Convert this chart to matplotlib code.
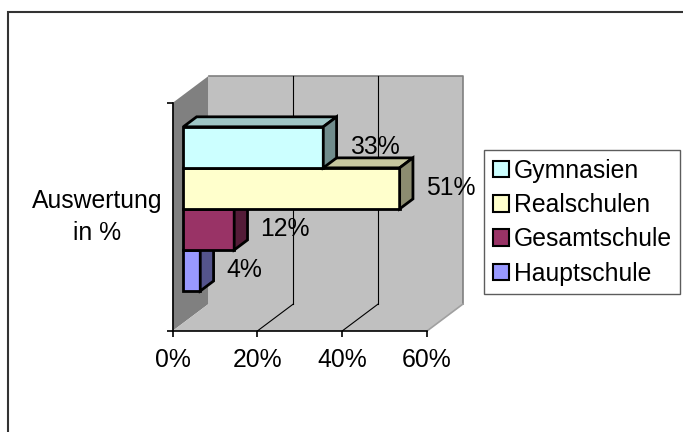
import matplotlib
import matplotlib.pyplot as plt
from matplotlib.patches import Polygon, Patch, Rectangle
import numpy as np

plt.rcParams['font.family'] = ['Liberation Sans', 'DejaVu Sans']

# data
series = ['Gymnasien', 'Realschulen', 'Gesamtschule', 'Hauptschule']
values = [33, 51, 12, 4]
colors = ['#CCFFFF', '#FFFFCC', '#993366', '#9999FF']
category = 'Auswertung\nin %'
xticks = [0, 20, 40, 60]
xticklabels = ['0%', '20%', '40%', '60%']

W, H = 683, 432
FS = 17.8
fig = plt.figure(figsize=(W / 100, H / 100), dpi=100)
ax = fig.add_axes([172.5 / W, (H - 331) / H, 254.5 / W, 228 / H])
ax.set_xlim(0, 60)
ax.set_ylim(0, 1)
ax.patch.set_visible(False)

# depth of the fake 3d box, in data units
DX = 60 * 36 / 254.5
DY = 27 / 228


def shade(c, f):
    return np.array(matplotlib.colors.to_rgb(c)) * f


def poly(pts, fc, ec='none', lw=0, z=1):
    ax.add_patch(Polygon(pts, closed=True, facecolor=fc, edgecolor=ec,
                         linewidth=lw, zorder=z, clip_on=False, joinstyle='miter'))


# walls
poly([(0, 0), (DX, DY), (DX, 1 + DY), (0, 1)], '#808080', z=0.5)
poly([(0, 0), (60, 0), (60 + DX, DY), (DX, DY)], '#C0C0C0', z=0.5)
poly([(DX, DY), (60 + DX, DY), (60 + DX, 1 + DY), (DX, 1 + DY)], '#C0C0C0', z=0.4)
ax.plot([DX, 60 + DX, 60 + DX], [1 + DY, 1 + DY, DY], color='#808080', lw=1.2, zorder=0.6, clip_on=False)
ax.plot([60, 60 + DX], [0, DY], color='#A0A0A0', lw=1.2, zorder=0.6, clip_on=False)
for t in xticks[1:-1]:
    ax.plot([t + DX, t + DX], [DY, 1 + DY], color='black', lw=0.8, zorder=0.6, clip_on=False)
    ax.plot([t, t + DX], [0, DY], color='black', lw=0.8, zorder=0.6, clip_on=False)

# bars, bottom one first so upper bars cover hidden faces
h = 0.18
d0x, d0y = 0.3 * DX, 0.3 * DY
bx, by = 0.37 * DX, 0.37 * DY
n = len(series)
for i in reversed(range(n)):
    v = values[i]
    c = colors[i]
    x0 = d0x
    x1 = d0x + v
    y0 = 0.14 + (n - 1 - i) * h + d0y
    y1 = y0 + h
    poly([(x0, y0), (x1, y0), (x1, y1), (x0, y1)], c, 'black', 2.0, 2)
    poly([(x0, y1), (x1, y1), (x1 + bx, y1 + by), (x0 + bx, y1 + by)], shade(c, 0.78), 'black', 2.0, 2)
    poly([(x1, y0), (x1 + bx, y0 + by), (x1 + bx, y1 + by), (x1, y1)], shade(c, 0.55), 'black', 2.0, 2)
    ax.text(x1 + 6.2, (y0 + y1) / 2 + 0.002, f'{v}%', ha='left', va='center',
            fontsize=FS, zorder=3)

# axes
for s in ['top', 'right']:
    ax.spines[s].set_visible(False)
ax.spines['left'].set_linewidth(1.2)
ax.spines['bottom'].set_linewidth(1.2)
ax.spines['left'].set_zorder(1)
ax.spines['bottom'].set_zorder(1)
ax.set_xticks(xticks, labels=xticklabels, fontsize=FS)
ax.tick_params(axis='x', length=4, width=1.2, pad=8)
ax.set_yticks([0, 1], labels=['', ''])
ax.tick_params(axis='y', which='major', length=4, width=1.2)
ax.set_yticks([0.5], labels=[category], minor=True, fontsize=FS)
ax.tick_params(axis='y', which='minor', length=0, pad=7)
for lab in ax.get_yticklabels(minor=True):
    lab.set_multialignment('center')
    lab.set_verticalalignment('center')
    lab.set_linespacing(1.45)

# legend
handles = [Patch(facecolor=c, edgecolor='black', linewidth=1.5) for c in colors]
leg = fig.legend(handles, series, loc='upper left', bbox_to_anchor=(484 / W, 1 - 150 / H),
                 bbox_transform=fig.transFigure, fontsize=FS, frameon=True, fancybox=False,
                 handlelength=0.65, handleheight=0.65, handletextpad=0.2, labelspacing=0.42,
                 borderpad=0.35, borderaxespad=0)
leg.get_frame().set_edgecolor('#333333')
leg.get_frame().set_linewidth(1.0)

# chart border (top and left only are in view)
fig.add_artist(Rectangle((8 / W, -0.1), 1.2, (H - 12) / H + 0.1, transform=fig.transFigure,
                         fill=False, edgecolor='#333333', linewidth=1.5))

fig.savefig('out.png', dpi=100)
